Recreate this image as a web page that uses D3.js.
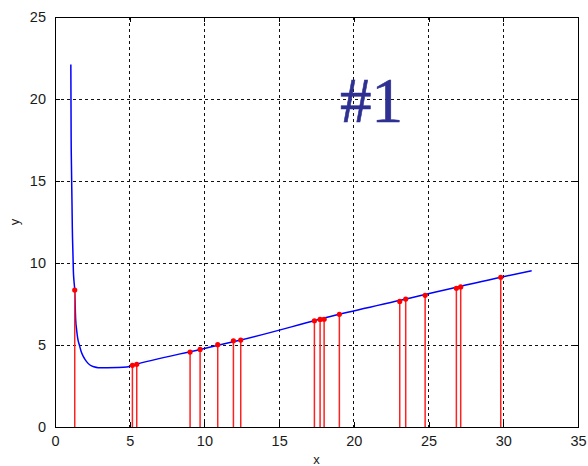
<!DOCTYPE html>
<html><head><meta charset="utf-8">
<script src="https://cdn.jsdelivr.net/npm/d3@7"></script>
<style>body{margin:0;background:#fff;}svg{display:block;}</style>
</head><body><svg id="c" width="588" height="466"></svg>
<script>
const xTicks = [0, 5, 10, 15, 20, 25, 30, 35];
const yTicks = [0, 5, 10, 15, 20, 25];
const curveX = [1.06, 1.08, 1.10, 1.14, 1.16, 1.20, 1.23, 1.27, 1.32, 1.38, 1.45, 1.52, 1.63, 1.75, 1.9, 2.1, 2.34, 2.6, 2.9, 3.5, 4.2, 4.8, 5.18, 9.71, 12.43, 19.03, 23.47, 29.83, 31.9];
const curveY = [22.1, 17.6, 16.0, 13.5, 12.1, 10.6, 9.5, 8.9, 8.35, 6.6, 5.9, 5.4, 5.0, 4.6, 4.29, 4.0, 3.78, 3.67, 3.62, 3.62, 3.63, 3.66, 3.76, 4.73, 5.30, 6.87, 7.80, 9.13, 9.53];
const stemX = [1.32, 5.18, 5.47, 9.04, 9.71, 10.89, 11.94, 12.43, 17.36, 17.74, 18.01, 19.03, 23.07, 23.47, 24.77, 26.86, 27.15, 29.83];
const stemY = [8.35, 3.76, 3.82, 4.57, 4.73, 5.02, 5.26, 5.30, 6.48, 6.56, 6.57, 6.87, 7.66, 7.80, 8.03, 8.46, 8.54, 9.13];
const titleText = "#1";
const xLabel = "x", yLabel = "y";

const L = 55, R = 578, T = 17, B = 427;
const svg = d3.select("#c");
const x = d3.scaleLinear().domain([0, 35]).range([L, R]);
const y = d3.scaleLinear().domain([0, 25]).range([B, T]);

// grid
const g = svg.append("g").attr("shape-rendering", "crispEdges");
g.selectAll(".vg").data(xTicks.slice(1, -1)).enter().append("line")
  .attr("x1", d => x(d)).attr("x2", d => x(d)).attr("y1", T).attr("y2", B)
  .attr("stroke", "#111").attr("stroke-width", 1).attr("stroke-dasharray", "3,3");
g.selectAll(".hg").data(yTicks.slice(1, -1)).enter().append("line")
  .attr("y1", d => y(d)).attr("y2", d => y(d)).attr("x1", L).attr("x2", R)
  .attr("stroke", "#111").attr("stroke-width", 1).attr("stroke-dasharray", "3,3");

// title text
svg.append("text").attr("x", 340).attr("y", 122).text(titleText)
  .attr("font-family", "'Liberation Serif','Times New Roman',serif")
  .attr("font-size", 63).attr("fill", "#2e3192").attr("stroke", "#2e3192").attr("stroke-width", 0.6);

// curve
const pts = curveX.map((d, i) => [d, curveY[i]]);
svg.append("path").attr("d", d3.line().x(d => x(d[0])).y(d => y(d[1])).curve(d3.curveMonotoneX)(pts))
  .attr("fill", "none").attr("stroke", "#0000ff").attr("stroke-width", 1.5);

// stems
const sd = stemX.map((d, i) => [d, stemY[i]]);
svg.selectAll(".st").data(sd).enter().append("line")
  .attr("x1", d => x(d[0])).attr("x2", d => x(d[0])).attr("y1", y(0)).attr("y2", d => y(d[1]))
  .attr("stroke", "#ff2020").attr("stroke-width", 1.5);
svg.selectAll(".sm").data(sd).enter().append("circle")
  .attr("cx", d => x(d[0])).attr("cy", d => y(d[1])).attr("r", 2.6).attr("fill", "#ff0000");

// axes
const font = "Arial, 'Liberation Sans', sans-serif";
const gx = svg.append("g").attr("transform", `translate(0,${B})`).call(d3.axisBottom(x).tickValues(xTicks).tickSize(-5).tickPadding(9));
const gy = svg.append("g").attr("transform", `translate(${L},0)`).call(d3.axisLeft(y).tickValues(yTicks).tickSize(-5).tickPadding(9));
const gx2 = svg.append("g").attr("transform", `translate(0,${T})`).call(d3.axisTop(x).tickValues(xTicks).tickSize(-5).tickFormat(""));
const gy2 = svg.append("g").attr("transform", `translate(${R},0)`).call(d3.axisRight(y).tickValues(yTicks).tickSize(-5).tickFormat(""));
[gx, gy, gx2, gy2].forEach(a => {
  a.attr("shape-rendering", "crispEdges");
  a.select(".domain").attr("stroke", "#000").attr("stroke-width", 1.3);
  a.selectAll(".tick line").attr("stroke", "#000");
  a.selectAll("text").attr("font-family", font).attr("font-size", 14.5).attr("fill", "#1a1a1a");
});
gx.selectAll("text").attr("dy", "0.71em");

svg.append("text").attr("x", (L + R) / 2).attr("y", 464).attr("text-anchor", "middle")
  .attr("font-family", font).attr("font-size", 13).attr("fill", "#1a1a1a").text(xLabel);
svg.append("text").attr("transform", `translate(19,${(T + B) / 2}) rotate(-90)`).attr("text-anchor", "middle")
  .attr("font-family", font).attr("font-size", 13).attr("fill", "#1a1a1a").text(yLabel);
</script></body></html>
